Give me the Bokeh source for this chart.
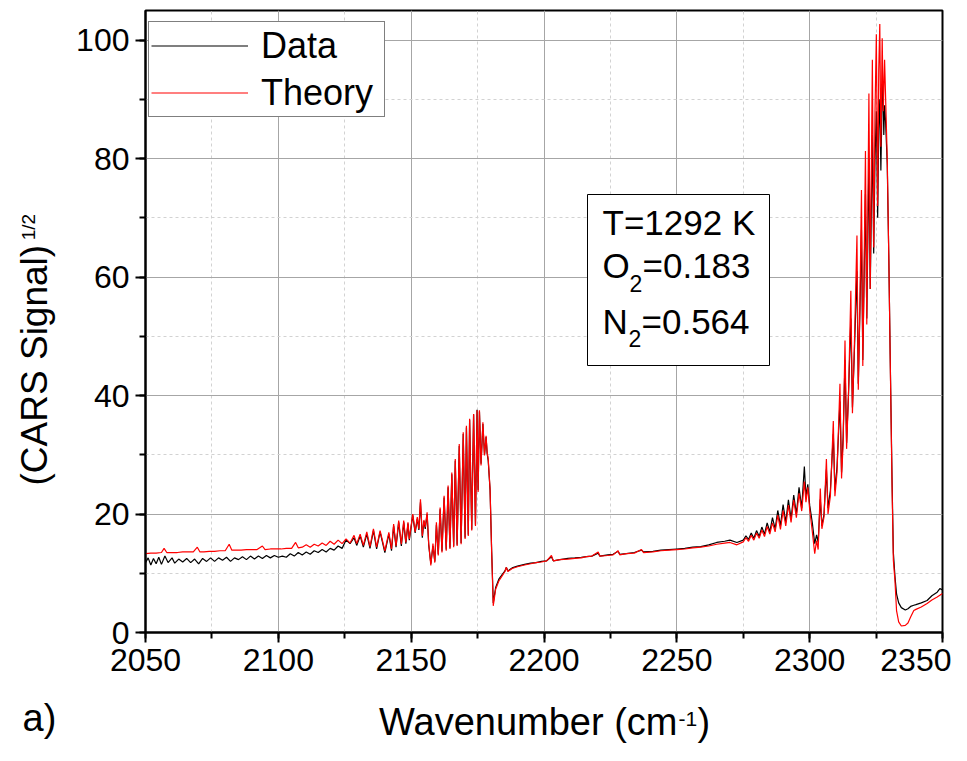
import math
from bokeh.plotting import figure
from bokeh.models import (Range1d, SingleIntervalTicker, Legend, LegendItem,
                          Label, BoxAnnotation)
from bokeh.layouts import row, column
from bokeh.embed import file_html
from bokeh.resources import INLINE

# ---------------- data ----------------
theory_wn = [2050, 2052, 2054, 2056, 2057, 2058, 2060, 2062, 2064, 2066, 2068, 2069.5, 2070.5, 2072, 2074, 2076, 2078, 2080,
             2081.5, 2082.5, 2084, 2086, 2088, 2090, 2092, 2094, 2095, 2097, 2099, 2101, 2103, 2105, 2106.5, 2107.5, 2109,
             2110.5, 2112, 2113.5, 2115, 2116.5, 2118, 2119.5, 2121, 2122.5, 2124, 2125.5, 2127, 2128.5, 2129.5, 2130.8,
             2132, 2133.3, 2134.5, 2135.8, 2137, 2138.3, 2140.1, 2141.6, 2142.6, 2143.4, 2144.3, 2145.3, 2146.3, 2147.2,
             2148.0, 2148.8, 2149.3, 2150.6, 2151.5, 2152.3, 2152.9, 2153.5, 2154.2, 2154.8, 2155.3, 2156.0, 2156.6, 2157.4,
             2158.2, 2158.9, 2159.5, 2160.2, 2160.9, 2161.6, 2162.4, 2163.2, 2163.9, 2164.6, 2165.3, 2166.0, 2166.6, 2167.3,
             2168.1, 2168.8, 2169.6, 2170.3, 2170.8, 2171.5, 2172.0, 2172.8, 2173.5, 2174.2, 2174.8, 2175.2, 2175.7, 2176.3,
             2177.0, 2177.6, 2178.2, 2178.6, 2179.0, 2179.7, 2180.3, 2180.9, 2181.8, 2183.0, 2184.3, 2185.3, 2185.8, 2186.4,
             2188, 2190, 2192.7, 2195, 2197, 2199, 2201, 2202.8, 2203.5, 2206, 2209, 2211.6, 2214, 2216, 2218, 2220.4, 2221,
             2224, 2226, 2227.9, 2228.5, 2231, 2234, 2236.7, 2237.5, 2241, 2244, 2247, 2250, 2253, 2256, 2259, 2262, 2265,
             2268, 2270, 2272.6, 2275,
             2276, 2277, 2278, 2279, 2280, 2281, 2282, 2283, 2284, 2285, 2286, 2287, 2288, 2289, 2290, 2291, 2292, 2293,
             2294, 2295, 2296, 2297, 2298, 2298.6, 2299.3, 2300, 2301, 2301.9, 2302.6, 2303.2, 2304, 2304.6, 2305.4, 2306.3,
             2306.9, 2307.8, 2308.9, 2309.5, 2310.3, 2311.4, 2312, 2312.6, 2313.3, 2313.9, 2314.6, 2315.5, 2316.1, 2316.8,
             2317.8, 2318.3, 2318.9, 2319.5, 2320, 2320.5, 2321.0, 2321.5, 2322.3, 2322.8, 2323.6, 2324.1, 2324.6, 2325.1,
             2325.6, 2326.0, 2326.4, 2326.8, 2327.3, 2327.7, 2328.2, 2328.6, 2329.2, 2329.8, 2330.3, 2331.0, 2331.5, 2332.1,
             2332.7, 2333.5, 2334.5, 2336.0, 2337.0, 2338.0, 2339.2, 2340, 2342, 2344.2, 2346, 2348, 2350]
theory_sig = [13.3, 13.4, 13.4, 13.5, 14.2, 13.5, 13.5, 13.5, 13.6, 13.6, 13.6, 14.4, 13.6, 13.6, 13.7, 13.7, 13.8, 13.8,
              14.9, 13.9, 13.9, 13.9, 14.0, 14.0, 14.0, 14.6, 14.0, 14.1, 14.1, 14.1, 14.2, 14.2, 15.2, 14.3, 14.4,
              14.8, 14.4, 14.9, 14.6, 15.1, 14.7, 15.4, 14.9, 15.6, 15.0, 15.8, 15.1, 16.4, 15.0, 16.6,
              14.7, 17.0, 14.5, 17.5, 14.4, 17.2, 13.8, 16.9, 14.1, 18.3, 14.6, 18.9, 14.9, 18.9,
              15.2, 18.6, 15.8, 20.0, 17.0, 19.5, 17.5, 22.5, 16.3, 19.0, 17.8, 20.3, 15.0, 11.3,
              15.0, 11.8, 18.6, 13.0, 21.1, 13.5, 23.1, 13.8, 24.8, 14.1, 27.0, 14.4, 29.3, 14.6,
              31.8, 14.9, 33.8, 15.8, 34.9, 16.3, 36.1, 17.2, 36.9, 18.0, 37.5, 23.7, 37.5, 28.2,
              35.5, 29.9, 33.2, 30.4, 29.3, 24.2, 13.5, 4.5, 7.3, 8.7, 9.6, 10.3, 11.0, 10.3,
              10.8, 11.1, 11.4, 11.6, 11.8, 11.9, 12.1, 13.0, 12.1, 12.3, 12.4, 12.5, 12.6, 12.8, 12.9, 13.6, 12.9,
              13.0, 13.1, 13.8, 13.1, 13.3, 13.4, 14.0, 13.5, 13.6, 13.8, 13.9, 14.0, 14.1, 14.3, 14.4, 14.6, 14.9,
              15.1, 15.2, 14.8, 15.3,
              16.0, 15.4, 16.4, 15.6, 16.8, 15.9, 17.3, 16.2, 17.9, 16.6, 18.5, 17.0, 19.8, 17.4, 20.6, 18.0, 21.5, 18.6,
              22.4, 19.4, 23.5, 20.5, 25.5, 22.0, 24.5, 20.8, 17.0, 13.3, 15.5, 14.0, 24.3, 17.5, 19.5, 29.3,
              20.0, 23.0, 35.7, 23.0, 27.0, 42.0, 26.0, 32.0, 49.3, 31.0, 40.0, 57.7, 37.0, 48.0,
              67.0, 41.0, 55.0, 74.7, 45.0, 62.0, 81.3, 52.0, 91.0, 58.0, 96.7, 65.0, 88.0, 101.0,
              72.0, 95.0, 102.7, 82.0, 100.3, 88.0, 96.7, 90.0, 80.0, 63.0, 46.7, 25.0, 12.2, 8.8,
              3.7, 1.8, 1.1, 1.2, 1.6, 2.6, 3.7, 3.9, 4.3, 4.9, 5.5, 6.0, 6.6]

data_wn = [2050, 2051, 2052, 2053, 2054, 2055, 2056, 2057.3, 2058.5, 2060, 2061, 2062.5, 2064, 2065.5, 2067, 2068.5, 2070,
           2071.5, 2073, 2074.5, 2076, 2077.5, 2079, 2080.5, 2082, 2083.5, 2085, 2086.5, 2088, 2089.5, 2091, 2092.5, 2094,
           2095.5, 2097, 2098.5, 2100, 2101.5, 2103, 2104.5, 2106, 2107.5, 2109, 2110.5, 2112, 2113.5, 2115, 2116.5, 2118,
           2119.5, 2121, 2122.5, 2124, 2125.5, 2127, 2128.5, 2129.5, 2130.8, 2132, 2133.3, 2134.5, 2135.8, 2137, 2138.3,
           2140.1, 2141.6, 2142.6, 2143.4, 2144.3, 2145.3, 2146.3, 2147.2, 2148, 2148.8, 2149.3, 2150.6, 2151.5, 2152.3,
           2152.9, 2153.5, 2154.2, 2154.8, 2155.3, 2156.0, 2156.6, 2157.4,
           2158.2, 2158.9, 2159.5, 2160.2, 2160.9, 2161.6, 2162.4, 2163.2, 2163.9, 2164.6, 2165.3, 2166.0, 2166.6, 2167.3,
           2168.1, 2168.8, 2169.6, 2170.3, 2170.8, 2171.5, 2172.0, 2172.8, 2173.5, 2174.2, 2174.8, 2175.2, 2175.7, 2176.3,
           2177.0, 2177.6, 2178.2, 2178.6, 2179.0, 2179.7, 2180.3, 2180.9, 2181.8, 2183, 2184.3, 2185.3, 2185.8, 2186.4,
           2188, 2190, 2192.7, 2195, 2197, 2199, 2201, 2202.8, 2203.5, 2206, 2209, 2211.6, 2214, 2216, 2218, 2220.4, 2221,
           2224, 2226, 2227.9, 2228.5, 2231, 2234, 2236.7, 2237.5, 2241, 2244, 2247, 2250, 2253, 2256, 2259, 2262, 2265,
           2268, 2270, 2272.6, 2275,
           2276, 2277, 2278, 2279, 2280, 2281, 2282, 2283, 2284, 2285, 2286, 2287, 2288, 2289, 2290, 2291, 2292, 2293,
           2294, 2295, 2296, 2297, 2298, 2298.6, 2299.3, 2300, 2301, 2301.9, 2302.6, 2303.2, 2304, 2304.6, 2305.4, 2306.3,
           2306.9, 2307.8, 2308.9, 2309.5, 2310.3, 2311.4, 2312, 2312.6, 2313.3, 2313.9, 2314.6, 2315.5, 2316.1, 2316.8,
           2317.8, 2318.3, 2318.9, 2319.5, 2320, 2320.5, 2321, 2321.5, 2322.3, 2322.8, 2323.6, 2324.1, 2324.6, 2325.1,
           2325.6, 2326.0, 2326.4, 2326.8, 2327.3, 2327.6, 2327.9, 2328.2, 2328.6, 2329.2, 2329.8, 2330.3, 2331.0, 2331.5,
           2332.1, 2332.7, 2333.5, 2334.5, 2336.0, 2337, 2338, 2339.2, 2340, 2342, 2344.2, 2346, 2348, 2349, 2350]
data_sig = [11.8, 12.6, 11.4, 12.5, 11.6, 12.7, 11.5, 12.9, 11.8, 12.6, 11.7, 12.4, 11.9, 12.5, 11.8, 12.4, 11.6,
            12.5, 12.0, 12.6, 12.0, 12.6, 12.2, 12.7, 12.0, 12.6, 12.3, 12.8, 12.3, 12.9, 12.4, 12.9, 12.5,
            13.0, 12.6, 13.0, 12.7, 12.9, 12.7, 13.3, 12.9, 13.5, 13.1, 13.6, 13.2, 13.8, 13.5, 14.0, 13.6,
            14.2, 13.9, 14.6, 14.2, 15.6, 15.0, 16.0, 14.7, 16.3, 14.4, 16.6, 14.2, 17.2, 14.1, 17.0,
            13.5, 16.6, 13.8, 18.0, 14.4, 18.6, 14.6, 18.6, 15.0, 18.4, 15.6, 19.8, 16.8, 19.2,
            17.3, 22.0, 16.0, 18.8, 17.5, 20.0, 14.8, 11.6,
            14.6, 12.0, 18.2, 13.2, 20.8, 13.7, 22.8, 14.0, 24.5, 14.3, 26.7, 14.6, 29.0, 14.8,
            31.5, 15.1, 33.5, 16.0, 34.6, 16.5, 35.9, 17.4, 36.8, 18.2, 37.6, 24.0, 37.3, 28.5,
            35.2, 30.0, 33.0, 30.2, 29.0, 24.0, 13.8, 5.0, 7.6, 9.0, 9.8, 10.4, 11.0, 10.4,
            10.9, 11.2, 11.5, 11.7, 11.8, 12.0, 12.1, 12.8, 12.1, 12.3, 12.5, 12.6, 12.7, 12.8, 12.9, 13.4, 12.9,
            13.1, 13.2, 13.7, 13.2, 13.3, 13.5, 13.9, 13.6, 13.7, 13.9, 14.0, 14.1, 14.2, 14.4, 14.5, 14.8, 15.2,
            15.4, 15.6, 15.2, 15.6,
            16.3, 15.7, 16.8, 15.9, 17.2, 16.2, 17.8, 16.6, 18.5, 17.0, 19.4, 17.5, 20.6, 18.0, 21.6, 18.6, 22.4, 19.2,
            23.2, 20.0, 24.5, 21.0, 28.0, 23.0, 25.0, 21.5, 18.5, 15.0, 16.5, 15.2, 22.5, 18.0, 20.0, 27.5,
            21.0, 24.0, 33.5, 24.0, 28.0, 39.0, 27.0, 33.0, 46.0, 32.0, 40.0, 53.0, 38.0, 47.0,
            61.0, 42.0, 54.0, 68.0, 46.0, 60.0, 74.0, 53.0, 80.0, 58.0, 84.0, 64.0, 80.0, 88.0,
            70.0, 85.0, 90.0, 78.0, 91.0, 93.0, 84.0, 89.0, 86.0, 79.0, 63.0, 47.0, 26.0, 13.5,
            9.5, 6.5, 5.0, 4.2, 3.8, 4.0, 4.4, 4.6, 4.7, 5.0, 5.4, 6.2, 6.8, 7.4, 7.2]

x_start, x_end = 2050, 2350
y_start, y_end = 0, 105
series_names = ["Data", "Theory"]
params = ["T=1292 K", "O", "2", "=0.183", "N", "2", "=0.564"]
x_title = ["Wavenumber (cm", "-1", ")"]
y_title = ["(CARS Signal)", "1/2"]
panel_tag = "a)"

FONT = "Liberation Sans"
K = 0.42   # measured shift between label anchor and the drawn baseline (fraction of font size)

# ---- layout (pixels of the picture) ----
W, H = 951, 745          # whole page content
LEFT_W = 68              # strip holding the y title
TOP_H = 690              # height of the upper row (strip + main plot)
FR_L, FR_R, FR_T, FR_B = 145, 942, 10, 632   # frame edges in picture pixels


def dx(px):
    return x_start + (px - FR_L) * (x_end - x_start) / (FR_R - FR_L)


def dy(py):
    return y_end - (py - FR_T) * (y_end - y_start) / (FR_B - FR_T)


p = figure(width=W - LEFT_W, height=TOP_H, output_backend="svg", toolbar_location=None,
           x_range=Range1d(x_start, x_end), y_range=Range1d(y_start, y_end),
           min_border_left=FR_L - LEFT_W, min_border_right=W - FR_R,
           min_border_top=FR_T, min_border_bottom=TOP_H - FR_B,
           background_fill_color="white", border_fill_color="white")

p.xaxis.ticker = SingleIntervalTicker(interval=50, num_minor_ticks=2)
p.yaxis.ticker = SingleIntervalTicker(interval=20, num_minor_ticks=2)

for ax in (p.xaxis, p.yaxis):
    ax.axis_line_width = 2
    ax.axis_line_color = "black"
    ax.major_tick_line_width = 2
    ax.major_tick_line_color = "black"
    ax.minor_tick_line_width = 2
    ax.minor_tick_line_color = "black"
    ax.major_tick_out = 10
    ax.major_tick_in = 0
    ax.minor_tick_out = 6
    ax.minor_tick_in = 0
    ax.major_label_text_font = FONT
    ax.major_label_text_font_size = "32px"
    ax.major_label_text_color = "black"
    ax.major_label_standoff = 6

for g in (p.xgrid, p.ygrid):
    g.grid_line_color = "#a6a6a6"
    g.grid_line_width = 1
    g.minor_grid_line_color = "#d2d2d2"
    g.minor_grid_line_dash = "3 3"
    g.minor_grid_line_width = 1

p.outline_line_color = "black"
p.outline_line_width = 2
p.outline_line_alpha = 1

r_data = p.line(data_wn, data_sig, line_color="black", line_width=1.2)
r_theory = p.line(theory_wn, theory_sig, line_color="#ff0000", line_width=1.2)

legend = Legend(items=[LegendItem(label=series_names[0], renderers=[r_data]),
                       LegendItem(label=series_names[1], renderers=[r_theory])],
                location=(3, 515), padding=2, spacing=4, margin=0,
                label_height=43, glyph_height=43, glyph_width=97, label_standoff=13, label_width=121,
                label_text_font=FONT, label_text_font_size="36px", label_text_color="black",
                border_line_color="black", border_line_width=1,
                background_fill_color="white", background_fill_alpha=1)
p.add_layout(legend)

# parameter box
box = BoxAnnotation(left=dx(587), right=dx(769), top=dy(194), bottom=dy(365),
                    fill_color="white", fill_alpha=1, line_color="black", line_width=1, line_alpha=1)
p.add_layout(box)


def lab(fig, text, x, y, size, angle=0.0, align="left"):
    fig.add_layout(Label(x=x, y=y, text=text, text_font=FONT, text_font_size=f"{size}px",
                         text_color="black", text_align=align, text_baseline="alphabetic", angle=angle))


def hlab(text, px, base_py, size):
    # horizontal label in the main plot, given the wanted baseline in picture pixels
    lab(p, text, dx(px), dy(base_py - K * size), size)


hlab(params[0], 602, 237, 35)
hlab(params[1], 602, 280, 35)
hlab(params[2], 629, 293, 23)
hlab(params[3], 642, 280, 35)
hlab(params[4], 602, 336, 35)
hlab(params[5], 628, 348, 23)
hlab(params[6], 641, 336, 35)


def strip(w, h):
    f = figure(width=w, height=h, output_backend="svg", toolbar_location=None,
               x_range=Range1d(0, w), y_range=Range1d(0, h),
               x_axis_type=None, y_axis_type=None, min_border=0,
               background_fill_color="white", border_fill_color="white")
    f.outline_line_color = None
    f.grid.visible = False
    return f


# left strip: rotated y title (coords: x = picture x, y = TOP_H - picture y)
left = strip(LEFT_W, TOP_H)
lab(left, y_title[0], 50 - K * 37, TOP_H - 260, 37, angle=math.pi / 2, align="right")
lab(left, y_title[1], 36 - K * 19, TOP_H - 255, 19, angle=math.pi / 2)

# bottom strip: x title and panel tag (coords: x = picture x, y = H - picture y)
bottom = strip(W, H - TOP_H)
lab(bottom, panel_tag, 22, H - (733 - K * 38), 38)
lab(bottom, x_title[0], 677, H - (737 - K * 38), 38, align="right")
lab(bottom, x_title[1], 678, H - (727 - K * 21), 21)
lab(bottom, x_title[2], 697, H - (737 - K * 38), 38)

layout = column(row(left, p, spacing=0), bottom, spacing=0)

open("out.html", "w").write(file_html(layout, INLINE))
